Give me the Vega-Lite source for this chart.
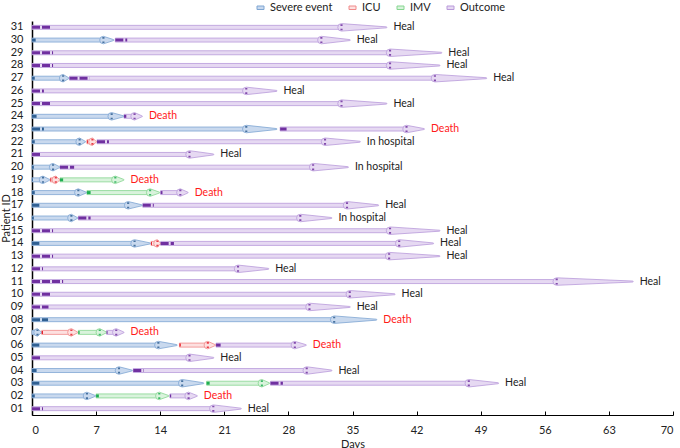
{
  "$schema": "https://vega.github.io/schema/vega-lite/v6.json",
  "width": 641,
  "height": 394,
  "autosize": {"type": "none"},
  "padding": {"left": 32, "top": 21, "right": 7, "bottom": 33},
  "background": "white",
  "config": {"font": "Lato", "view": {"stroke": null}, "axis": {"grid": false}},
  "data": {"values": [
    {"id": "31", "type": "Outcome", "start": 0, "head": 33.8, "end": 38.7, "m": 2.0, "label": "Heal"},
    {"id": "30", "type": "Severe event", "start": 0, "head": 7.8, "end": 8.9, "m": 0.4},
    {"id": "30", "type": "Outcome", "start": 9.1, "head": 31.6, "end": 34.7, "m": 10.4, "label": "Heal"},
    {"id": "29", "type": "Outcome", "start": 0, "head": 39.1, "end": 44.7, "m": 2.3, "label": "Heal"},
    {"id": "28", "type": "Outcome", "start": 0, "head": 39.1, "end": 44.5, "m": 2.3, "label": "Heal"},
    {"id": "27", "type": "Severe event", "start": 0, "head": 3.4, "end": 4.0, "m": 0.3},
    {"id": "27", "type": "Outcome", "start": 4.1, "head": 44.0, "end": 49.6, "m": 6.3, "label": "Heal"},
    {"id": "26", "type": "Outcome", "start": 0, "head": 23.4, "end": 26.7, "m": 1.3, "label": "Heal"},
    {"id": "25", "type": "Outcome", "start": 0, "head": 33.8, "end": 38.7, "m": 2.0, "label": "Heal"},
    {"id": "24", "type": "Severe event", "start": 0, "head": 8.7, "end": 10.0, "m": 0.5},
    {"id": "24", "type": "Outcome", "start": 10.05, "head": 11.2, "end": 12.0, "m": 10.3, "label": "Death"},
    {"id": "23", "type": "Severe event", "start": 0, "head": 23.4, "end": 26.7, "m": 1.3},
    {"id": "23", "type": "Outcome", "start": 27.1, "head": 40.9, "end": 42.8, "m": 27.8, "label": "Death"},
    {"id": "22", "type": "Severe event", "start": 0, "head": 5.2, "end": 5.8, "m": 0.3},
    {"id": "22", "type": "ICU", "start": 6.0, "head": 6.6, "end": 7.0, "m": 6.1},
    {"id": "22", "type": "Outcome", "start": 7.1, "head": 32.0, "end": 35.8, "m": 8.4, "label": "In hospital"},
    {"id": "21", "type": "Outcome", "start": 0, "head": 17.2, "end": 19.8, "m": 1.0, "label": "Heal"},
    {"id": "20", "type": "Severe event", "start": 0, "head": 2.3, "end": 3.0, "m": 0.2},
    {"id": "20", "type": "Outcome", "start": 3.06, "head": 30.7, "end": 34.5, "m": 4.6, "label": "In hospital"},
    {"id": "19", "type": "Severe event", "start": 0, "head": 1.2, "end": 1.9, "m": 0.1},
    {"id": "19", "type": "ICU", "start": 2.0, "head": 2.6, "end": 3.0, "m": 2.1},
    {"id": "19", "type": "IMV", "start": 3.06, "head": 9.1, "end": 10.0, "m": 3.4, "label": "Death"},
    {"id": "18", "type": "Severe event", "start": 0, "head": 5.06, "end": 5.9, "m": 0.3},
    {"id": "18", "type": "IMV", "start": 6.0, "head": 12.9, "end": 13.9, "m": 6.4},
    {"id": "18", "type": "Outcome", "start": 14.05, "head": 16.2, "end": 17.0, "m": 14.25, "label": "Death"},
    {"id": "17", "type": "Severe event", "start": 0, "head": 10.5, "end": 12.0, "m": 0.8},
    {"id": "17", "type": "Outcome", "start": 12.1, "head": 34.4, "end": 37.8, "m": 13.3, "label": "Heal"},
    {"id": "16", "type": "Severe event", "start": 0, "head": 4.3, "end": 4.95, "m": 0.2},
    {"id": "16", "type": "Outcome", "start": 5.06, "head": 29.3, "end": 32.7, "m": 6.4, "label": "In hospital"},
    {"id": "15", "type": "Outcome", "start": 0, "head": 39.1, "end": 44.5, "m": 2.3, "label": "Heal"},
    {"id": "14", "type": "Severe event", "start": 0, "head": 11.2, "end": 12.9, "m": 0.8},
    {"id": "14", "type": "ICU", "start": 13.0, "head": 13.7, "end": 14.0, "m": 13.1},
    {"id": "14", "type": "Outcome", "start": 14.05, "head": 40.1, "end": 43.8, "m": 15.5, "label": "Heal"},
    {"id": "13", "type": "Outcome", "start": 0, "head": 39.0, "end": 44.5, "m": 2.3, "label": "Heal"},
    {"id": "12", "type": "Outcome", "start": 0, "head": 22.5, "end": 25.8, "m": 1.2, "label": "Heal"},
    {"id": "11", "type": "Outcome", "start": 0, "head": 57.3, "end": 65.6, "m": 3.4, "label": "Heal"},
    {"id": "10", "type": "Outcome", "start": 0, "head": 34.7, "end": 39.6, "m": 2.05, "label": "Heal"},
    {"id": "09", "type": "Outcome", "start": 0, "head": 30.3, "end": 34.7, "m": 1.8, "label": "Heal"},
    {"id": "08", "type": "Severe event", "start": 0, "head": 33.0, "end": 37.6, "m": 1.75, "label": "Death"},
    {"id": "07", "type": "Severe event", "start": 0, "head": 0.6, "end": 1.0, "m": 0},
    {"id": "07", "type": "ICU", "start": 1.06, "head": 4.3, "end": 4.95, "m": 1.2},
    {"id": "07", "type": "IMV", "start": 5.06, "head": 7.4, "end": 8.1, "m": 5.2},
    {"id": "07", "type": "Outcome", "start": 8.15, "head": 9.2, "end": 10.0, "m": 8.25, "label": "Death"},
    {"id": "06", "type": "Severe event", "start": 0, "head": 13.8, "end": 15.8, "m": 0.8},
    {"id": "06", "type": "ICU", "start": 16.1, "head": 19.2, "end": 20.0, "m": 16.25},
    {"id": "06", "type": "Outcome", "start": 20.1, "head": 28.7, "end": 29.9, "m": 20.6, "label": "Death"},
    {"id": "05", "type": "Outcome", "start": 0, "head": 17.2, "end": 19.8, "m": 1.0, "label": "Heal"},
    {"id": "04", "type": "Severe event", "start": 0, "head": 9.5, "end": 10.9, "m": 0.5},
    {"id": "04", "type": "Outcome", "start": 11.06, "head": 30.0, "end": 32.7, "m": 12.2, "label": "Heal"},
    {"id": "03", "type": "Severe event", "start": 0, "head": 16.4, "end": 18.7, "m": 0.8},
    {"id": "03", "type": "IMV", "start": 19.07, "head": 25.1, "end": 25.9, "m": 19.4},
    {"id": "03", "type": "Outcome", "start": 26.05, "head": 47.7, "end": 50.9, "m": 27.4, "label": "Heal"},
    {"id": "02", "type": "Severe event", "start": 0, "head": 6.0, "end": 6.9, "m": 0.3},
    {"id": "02", "type": "IMV", "start": 7.0, "head": 13.9, "end": 14.9, "m": 7.3},
    {"id": "02", "type": "Outcome", "start": 15.06, "head": 17.1, "end": 18.0, "m": 15.2, "label": "Death"},
    {"id": "01", "type": "Outcome", "start": 0, "head": 19.8, "end": 22.8, "m": 1.2, "label": "Heal"}
  ]},
  "encoding": {
    "y": {
      "field": "id", "type": "ordinal", "sort": "descending",
      "scale": {"paddingInner": 0, "paddingOuter": 0},
      "axis": {"title": "Patient ID", "titleFontSize": 11, "titleFontWeight": "normal", "titleColor": "#222",
               "labelFontSize": 11, "labelColor": "#222", "ticks": false, "domainColor": "black",
               "domainWidth": 1.5, "labelPadding": 9, "titleX": -21, "titleY": 197, "titleBaseline": "bottom"}
    }
  },
  "layer": [
    {
      "mark": {"type": "bar", "height": 4, "strokeWidth": 0.8},
      "encoding": {
        "x": {"field": "start", "type": "quantitative", "scale": {"domain": [0, 70], "nice": false},
              "axis": {"title": "Days", "values": [0, 7, 14, 21, 28, 35, 42, 49, 56, 63, 70],
                       "titleFontSize": 11, "titleFontWeight": "normal", "titleColor": "#222",
                       "labelFontSize": 11, "labelColor": "#222", "domainColor": "black", "domainWidth": 1.2,
                       "tickColor": "black", "tickSize": -4, "labelPadding": 13, "titlePadding": 3}},
        "x2": {"field": "head"},
        "fill": {"field": "type", "type": "nominal",
                 "scale": {"domain": ["Severe event", "ICU", "IMV", "Outcome"], "range": ["#c9d9ee", "#fde0e0", "#d9f3dc", "#e6d9f2"]},
                 "legend": {"orient": "none", "direction": "horizontal", "legendX": 223, "legendY": -19, "title": null,
                            "symbolType": "M-1,-0.5H1V0.5H-1Z", "symbolSize": 49, "symbolStrokeWidth": 1,
                            "labelFontSize": 11, "labelColor": "#222", "labelOffset": 4, "columnPadding": 14}},
        "stroke": {"field": "type", "type": "nominal",
                   "scale": {"domain": ["Severe event", "ICU", "IMV", "Outcome"], "range": ["#7fa6d3", "#f08a8a", "#86d690", "#b99ada"]},
                   "legend": {"orient": "none", "direction": "horizontal", "legendX": 223, "legendY": -19, "title": null,
                              "symbolType": "M-1,-0.5H1V0.5H-1Z", "symbolSize": 49, "symbolStrokeWidth": 1,
                              "labelFontSize": 11, "labelColor": "#222", "labelOffset": 4, "columnPadding": 14}}
      }
    },
    {
      "transform": [{"fold": ["head", "end"], "as": ["pt", "px"]}],
      "mark": {"type": "trail", "strokeWidth": 0.8},
      "encoding": {
        "x": {"field": "px", "type": "quantitative"},
        "detail": [{"field": "id"}, {"field": "type"}],
        "order": {"field": "px", "type": "quantitative"},
        "size": {"field": "pt", "type": "ordinal", "scale": {"domain": ["head", "end"], "range": [7.5, 0]}, "legend": null},
        "fill": {"field": "type", "type": "nominal",
                 "scale": {"domain": ["Severe event", "ICU", "IMV", "Outcome"], "range": ["#c9d9ee", "#fde0e0", "#d9f3dc", "#e6d9f2"]},
                 "legend": null},
        "stroke": {"field": "type", "type": "nominal",
                   "scale": {"domain": ["Severe event", "ICU", "IMV", "Outcome"], "range": ["#7fa6d3", "#f08a8a", "#86d690", "#b99ada"]},
                   "legend": null}
      }
    },
    {
      "mark": {"type": "rule", "strokeWidth": 3, "strokeDash": [8, 2], "strokeCap": "butt"},
      "encoding": {
        "x": {"field": "start", "type": "quantitative"},
        "x2": {"field": "m"},
        "stroke": {"field": "type", "type": "nominal",
                   "scale": {"domain": ["Severe event", "ICU", "IMV", "Outcome"], "range": ["#2f5f92", "#e8202a", "#1fae52", "#7030a0"]},
                   "legend": null}
      }
    },
    {
      "mark": {"type": "point", "filled": true, "opacity": 0.85, "strokeWidth": 0,
               "shape": "M-0.35,-1H0.35V-0.45H-0.35Z M-0.35,0.45H0.35V1H-0.35Z", "size": 36},
      "encoding": {
        "x": {"field": "head", "type": "quantitative"},
        "fill": {"field": "type", "type": "nominal",
                 "scale": {"domain": ["Severe event", "ICU", "IMV", "Outcome"], "range": ["#2f5f92", "#e8202a", "#1fae52", "#7030a0"]},
                 "legend": null}
      }
    },
    {
      "transform": [{"filter": "isValid(datum.label)"}],
      "mark": {"type": "text", "align": "left", "baseline": "middle", "dx": 7, "fontSize": 10.5},
      "encoding": {
        "x": {"field": "end", "type": "quantitative"},
        "text": {"field": "label"},
        "fill": {"field": "label", "type": "nominal",
                 "scale": {"domain": ["Heal", "Death", "In hospital"], "range": ["#222222", "#ff1a1a", "#222222"]},
                 "legend": null}
      }
    }
  ],
  "resolve": {"scale": {"fill": "independent", "stroke": "independent"}, "legend": {"fill": "independent", "stroke": "independent"}}
}
